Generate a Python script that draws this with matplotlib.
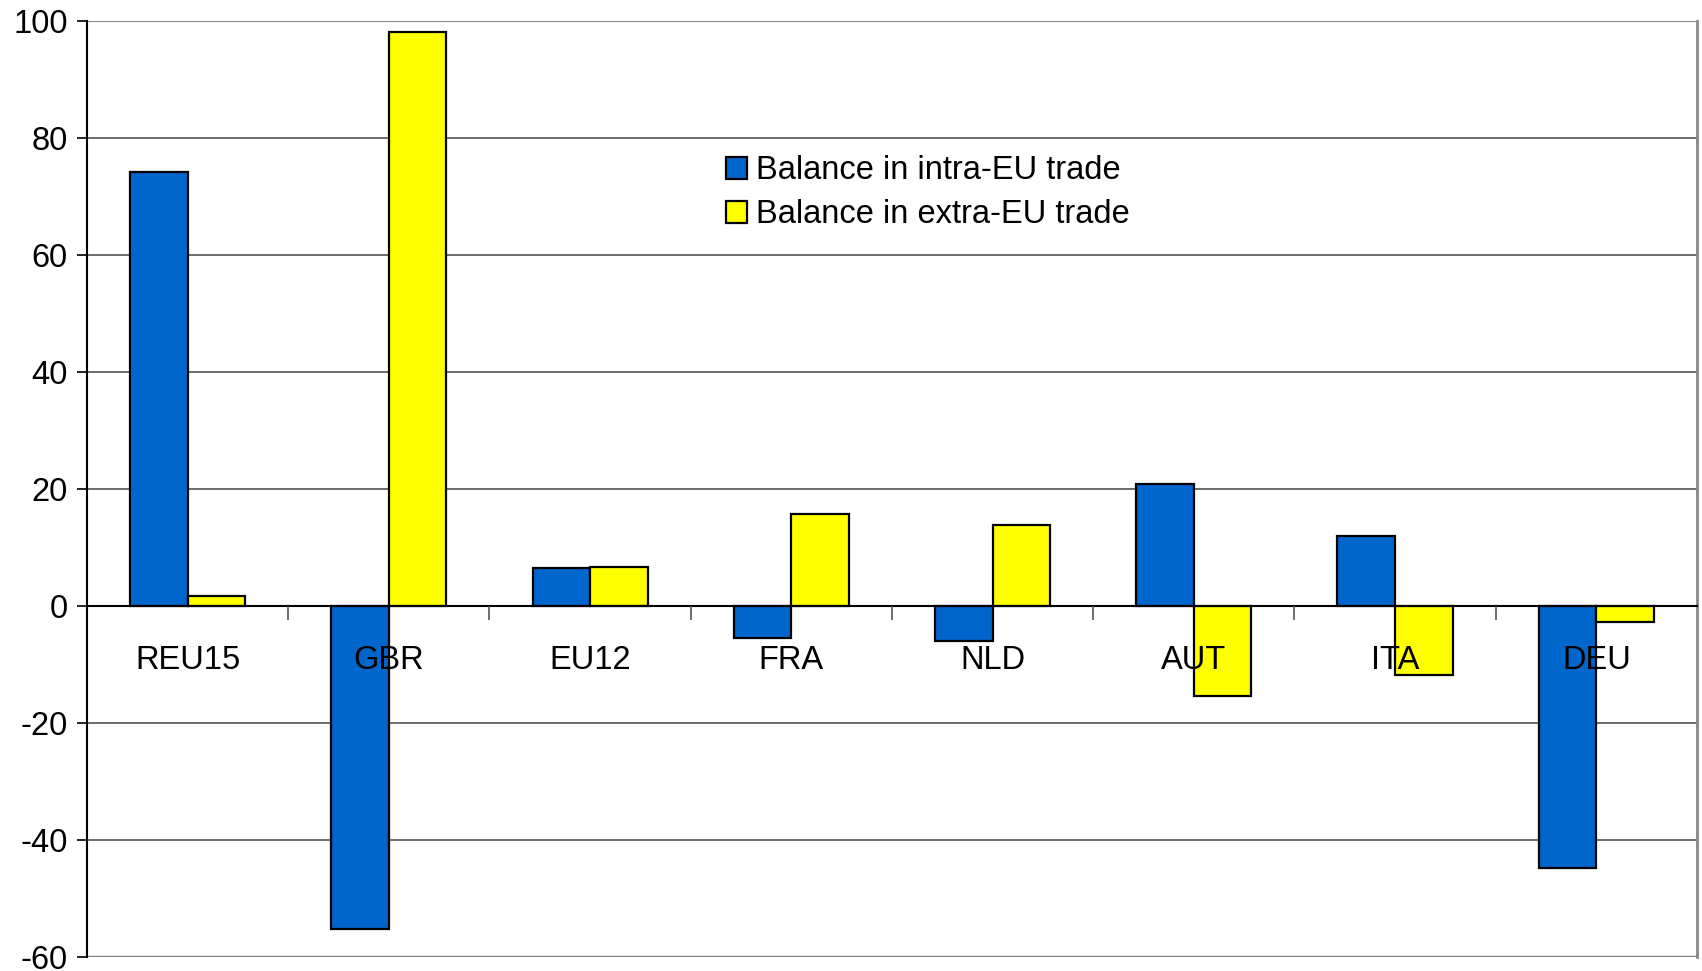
import matplotlib
matplotlib.use("Agg")
import matplotlib.pyplot as plt
import numpy as np

categories = ["REU15", "GBR", "EU12", "FRA", "NLD", "AUT", "ITA", "DEU"]
intra_eu = [74.2, -55.1, 6.5, -5.4, -5.9, 20.8, 11.9, -44.7]
extra_eu = [1.7, 98.1, 6.7, 15.8, 13.9, -15.4, -11.7, -2.8]
series_names = ["Balance in intra-EU trade", "Balance in extra-EU trade"]
yticks = [-60, -40, -20, 0, 20, 40, 60, 80, 100]

plt.rcParams['font.family'] = ['Liberation Sans', 'DejaVu Sans']
FS = 23.5

fig = plt.figure(figsize=(17.02, 9.71), dpi=100)
ax = fig.add_axes([0.0511, 0.0140, 0.9459, 0.9648])

x = np.arange(len(categories))
w = 0.286
ax.bar(x - w/2, intra_eu, w, color="#0066CC", edgecolor="black", linewidth=1.6,
       label=series_names[0], zorder=3)
ax.bar(x + w/2, extra_eu, w, color="#FFFF00", edgecolor="black", linewidth=1.6,
       label=series_names[1], zorder=3)

ax.set_xlim(-0.5, len(categories) - 0.5)
ax.set_ylim(-60, 100)
ax.set_yticks(yticks)
ax.set_yticklabels([str(t) for t in yticks], fontsize=FS)
ax.tick_params(axis='y', direction='out', length=7, width=1.2, pad=7, color='black')

for t in yticks:
    if t != 0:
        ax.axhline(t, color='#444444', linewidth=1.1, zorder=1)

# x axis at zero, labels drawn over the bars
ax.spines['bottom'].set_position(('data', 0))
ax.spines['bottom'].set_linewidth(1.5)
ax.spines['bottom'].set_zorder(4)
ax.spines['left'].set_linewidth(1.5)
ax.spines['top'].set_visible(False)
ax.spines['right'].set_color('#888888')
ax.spines['right'].set_linewidth(2)
ax.set_xticks(x)
ax.set_xticklabels(categories, fontsize=FS)
ax.tick_params(axis='x', which='major', length=0, pad=28)
ax.set_xticks(np.arange(0.5, len(categories) - 0.5, 1.0), minor=True)
ax.tick_params(axis='x', which='minor', direction='out', length=10, width=1.2, color='#555555')
ax.xaxis.set_zorder(5)
ax.axhline(-60, color='#888888', linewidth=2.5, zorder=2)
ax.axhline(100, color='#888888', linewidth=1.5, zorder=2)

leg = ax.legend(loc='upper left', bbox_to_anchor=(0.389, 0.870), frameon=False,
                fontsize=FS, handlelength=0.62, handleheight=0.62, handletextpad=0.3,
                labelspacing=0.4, borderaxespad=0)

fig.savefig("out.png", dpi=100)
